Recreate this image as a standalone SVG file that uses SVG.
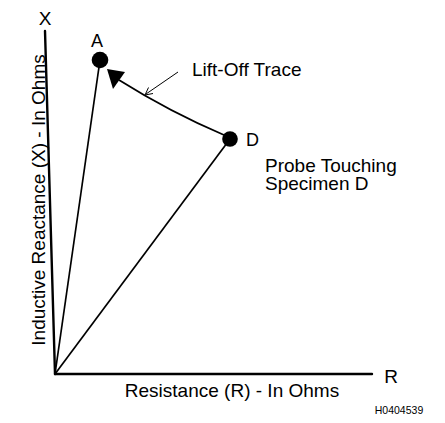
<svg xmlns="http://www.w3.org/2000/svg" width="445" height="423" viewBox="0 0 445 423">
<style>
text{font-family:"Liberation Sans",Arial,sans-serif;fill:#000}
.t{font-size:19px}
.ax{stroke:#000;stroke-width:2.4;fill:none;stroke-linecap:round}
.ln{stroke:#000;stroke-width:1.7;fill:none}
.pt{stroke:#000;stroke-width:1;fill:none}
</style>
<rect width="445" height="423" fill="#fff"/>
<g id="axes">
<line class="ax" x1="45" y1="31" x2="55" y2="374"/>
<line class="ax" x1="55" y1="374" x2="372" y2="374"/>
<text class="t" x="45" y="25" text-anchor="middle">X</text>
<text class="t" x="391" y="383" text-anchor="middle">R</text>
<text class="t" x="232" y="397" text-anchor="middle">Resistance (R) - In Ohms</text>
<text class="t" transform="translate(45,200) rotate(-90)" text-anchor="middle">Inductive Reactance (X) - In Ohms</text>
</g>
<g id="connectors">
<line class="ln" x1="55" y1="374" x2="100" y2="60"/>
<line class="ln" x1="55" y1="374" x2="230" y2="139"/>
<path class="ln" d="M224 135 Q170 112 119 80"/>
<polygon points="107,69 125,72 113,89" fill="#000"/>
<line class="pt" x1="178" y1="72" x2="146" y2="94"/>
<polyline class="pt" points="148.5,87.5 145,95 153,93.5"/>
</g>
<g id="nodeA">
<circle cx="100" cy="60" r="8.3" fill="#000"/>
<text x="97" y="47" text-anchor="middle" style="font-size:18px">A</text>
</g>
<g id="nodeD">
<circle cx="230" cy="139" r="7.8" fill="#000"/>
<text x="246" y="146" style="font-size:18px">D</text>
</g>
<g id="labels">
<text class="t" x="265" y="172">Probe Touching</text>
<text class="t" x="265" y="190">Specimen D</text>
<text class="t" x="192" y="76">Lift-Off Trace</text>
<text x="399" y="414" text-anchor="middle" style="font-size:10.5px">H0404539</text>
</g>
</svg>
